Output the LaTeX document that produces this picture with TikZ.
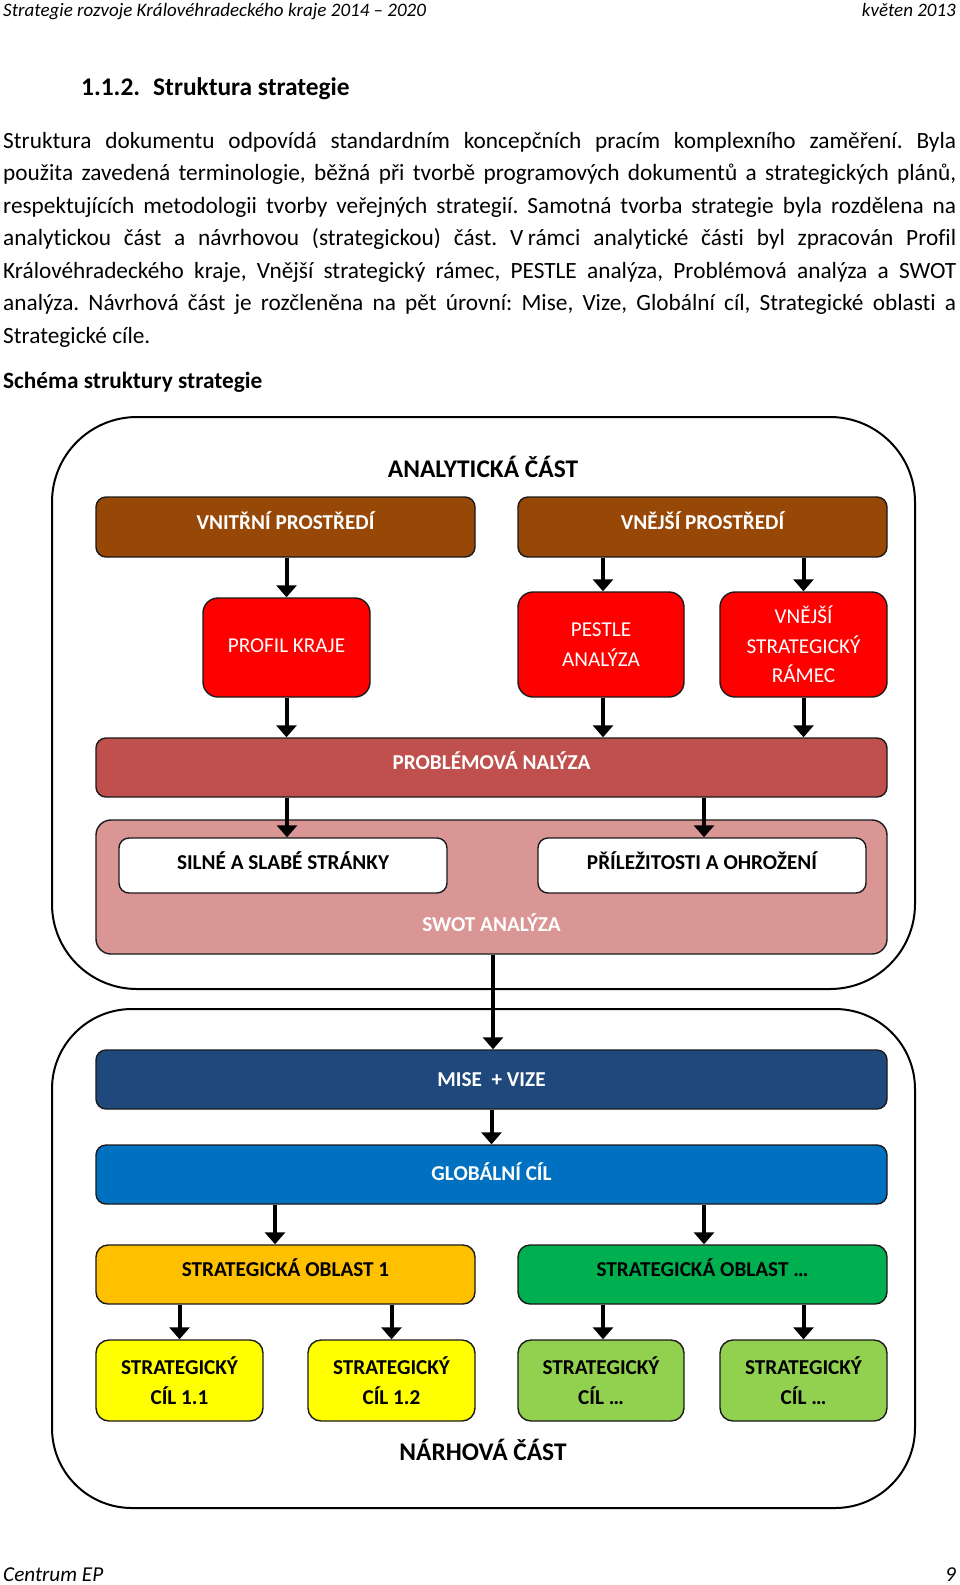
\documentclass[tikz,border=0pt]{standalone}
\usepackage{fontspec}
\setmainfont{Carlito}[Ligatures=NoCommon]
\usetikzlibrary{arrows.meta,calc}
\definecolor{cbrown}{HTML}{974706}
\definecolor{cred}{HTML}{FF0000}
\definecolor{cprob}{HTML}{C0504D}
\definecolor{cswot}{HTML}{D99694}
\definecolor{cmise}{HTML}{1F497D}
\definecolor{cglob}{HTML}{0070C0}
\definecolor{cso1}{HTML}{FFC000}
\definecolor{cso2}{HTML}{00B050}
\definecolor{ccil1}{HTML}{FFFF00}
\definecolor{ccil2}{HTML}{92D050}
\definecolor{cedge}{HTML}{1A1A1A}
\newcommand\fsz[2]{\fontsize{#1pt}{#2pt}\selectfont}
\newcommand\upby[2]{\raisebox{#1pt}[\height][\depth]{#2}}
\frenchspacing
\begin{document}
\begin{tikzpicture}[x=1pt,y=-1pt,
  bx/.style={draw=cedge, line width=1.4pt, inner sep=0pt, align=center, rounded corners=10pt,
     font=\fsz{21.2}{29.7}\bfseries, text=white},
  rbox/.style={bx, rounded corners=15pt, font=\fsz{21.2}{29.7}, fill=cred},
  cilbox/.style={bx, rounded corners=13pt, text=black, minimum width=167pt, minimum height=81pt},
  arr/.style={line width=4pt, -{Triangle[width=20pt,length=12pt]}},
  outerbox/.style={draw=black, line width=2pt, inner sep=0pt, minimum width=863pt},
  body/.style={anchor=base west, inner sep=0pt, font=\fsz{23.3}{32.5}},
  seclabel/.style={anchor=base, inner sep=0pt, font=\fsz{25.4}{30}\bfseries},
  pagetxt/.style={inner sep=0pt, font=\fsz{21.2}{26}\itshape}
]
\useasboundingbox (0,0) rectangle (960,1585);
\fill[white] (0,0) rectangle (960,1585);

% page header and footer
\node[pagetxt, font=\fsz{19}{24}\itshape, anchor=base west] (hdl) at (3,16.5) {Strategie rozvoje Královéhradeckého kraje 2014 – 2020};
\node[pagetxt, font=\fsz{19}{24}\itshape, anchor=base east] (hdr) at (956,16.5) {květen 2013};
\node[pagetxt, anchor=base west] (ftl) at (3,1581) {Centrum EP};
\node[pagetxt, anchor=base east] (ftr) at (956,1581) {9};

% heading
\node[anchor=base west, inner sep=0pt, font=\fsz{25.4}{30}\bfseries] (head) at (81,95)
  {\makebox[72pt][l]{1.1.2.}Struktura strategie};

% paragraph
\node[body] (p1) at (3,148) {\makebox[953pt][s]{Struktura dokumentu odpovídá standardním koncepčních pracím komplexního zaměření. Byla}};
\node[body] (p2) at (3,180.5) {\makebox[953pt][s]{použita zavedená terminologie, běžná při tvorbě programových dokumentů a strategických plánů,}};
\node[body] (p3) at (3,213) {\makebox[953pt][s]{respektujících metodologii tvorby veřejných strategií. Samotná tvorba strategie byla rozdělena na}};
\node[body] (p4) at (3,245.5) {\makebox[953pt][s]{analytickou část a návrhovou (strategickou) část. V\hspace{0.2em}rámci analytické části byl zpracován Profil}};
\node[body] (p5) at (3,278) {\makebox[953pt][s]{Královéhradeckého kraje, Vnější strategický rámec, PESTLE analýza, Problémová analýza a SWOT}};
\node[body] (p6) at (3,310.5) {\makebox[953pt][s]{analýza. Návrhová část je rozčleněna na pět úrovní: Mise, Vize, Globální cíl, Strategické oblasti a}};
\node[body] (p7) at (3,343) {Strategické cíle.};
\node[body, font=\fsz{23.3}{32.5}\bfseries] (schema) at (3,388) {Schéma struktury strategie};

% outer containers
\node[outerbox, rounded corners=85pt, minimum height=572pt] (anal) at (483.5,703) {};
\node[outerbox, rounded corners=80pt, minimum height=499pt] (navr) at (483.5,1258.5) {};
\node[seclabel] (analtxt) at (483,477) {ANALYTICKÁ ČÁST};
\node[seclabel] (navrtxt) at (483,1460) {NÁRHOVÁ ČÁST};

% analytic part
\node[bx, fill=cbrown, minimum width=379pt, minimum height=60pt] (vnitr) at (285.5,527) {\upby{6}{VNITŘNÍ PROSTŘEDÍ}};
\node[bx, fill=cbrown, minimum width=369pt, minimum height=60pt] (vnej) at (702.5,527) {\upby{6}{VNĚJŠÍ PROSTŘEDÍ}};
\node[rbox, minimum width=167pt, minimum height=99pt] (profil) at (286.5,647.5) {\upby{2}{PROFIL KRAJE}};
\node[rbox, minimum width=166pt, minimum height=105pt] (pestle) at (601,644.5) {PESTLE\\ANALÝZA};
\node[rbox, minimum width=167pt, minimum height=105pt] (ramec) at (803.5,644.5) {VNĚJŠÍ\\STRATEGICKÝ\\RÁMEC};
\node[bx, fill=cprob, minimum width=791pt, minimum height=59pt] (probl) at (491.5,767.5) {\upby{7}{PROBLÉMOVÁ NALÝZA}};
\node[bx, fill=cswot, rounded corners=15pt, minimum width=791pt, minimum height=134pt] (swot) at (491.5,887) {};
\node[inner sep=0pt, font=\fsz{21.2}{29.7}\bfseries, text=white] (swottxt) at (491.5,923) {SWOT ANALÝZA};
\node[bx, fill=white, text=black, minimum width=328pt, minimum height=55pt] (silne) at (283,865.5) {\upby{5}{SILNÉ A SLABÉ STRÁNKY}};
\node[bx, fill=white, text=black, minimum width=328pt, minimum height=55pt] (prilez) at (702,865.5) {\upby{5}{PŘÍLEŽITOSTI A OHROŽENÍ}};

% design part
\node[bx, fill=cmise, minimum width=791pt, minimum height=59pt] (mise) at (491.5,1079.5) {MISE \ + VIZE};
\node[bx, fill=cglob, minimum width=791pt, minimum height=59pt] (glob) at (491.5,1174.5) {\upby{3}{GLOBÁLNÍ CÍL}};
\node[bx, fill=cso1, text=black, rounded corners=12pt, minimum width=379pt, minimum height=59pt] (so1) at (285.5,1274.5) {\upby{7}{STRATEGICKÁ OBLAST 1}};
\node[bx, fill=cso2, text=black, rounded corners=12pt, minimum width=369pt, minimum height=59pt] (so2) at (702.5,1274.5) {\upby{7}{STRATEGICKÁ OBLAST …}};
\node[cilbox, fill=ccil1] (c11) at (179.5,1380.5) {STRATEGICKÝ\\CÍL 1.1};
\node[cilbox, fill=ccil1] (c12) at (391.5,1380.5) {STRATEGICKÝ\\CÍL 1.2};
\node[cilbox, fill=ccil2, minimum width=166pt] (c21) at (601,1380.5) {STRATEGICKÝ\\CÍL …};
\node[cilbox, fill=ccil2] (c22) at (803.5,1380.5) {STRATEGICKÝ\\CÍL …};

% connectors
\draw[arr] (profil.north |- vnitr.south) -- (profil.north);
\draw[arr] ($(pestle.north |- vnej.south)+(2,0)$) -- ($(pestle.north)+(2,0)$);
\draw[arr] (ramec.north |- vnej.south) -- (ramec.north);
\draw[arr] (profil.south) -- (profil.south |- probl.north);
\draw[arr] ($(pestle.south)+(2,0)$) -- ($(pestle.south |- probl.north)+(2,0)$);
\draw[arr] (ramec.south) -- (ramec.south |- probl.north);
\draw[arr] ($(silne.north |- probl.south)+(4,0)$) -- ($(silne.north)+(4,0)$);
\draw[arr] ($(prilez.north |- probl.south)+(2,0)$) -- ($(prilez.north)+(2,0)$);
\draw[arr] ($(swot.south)+(1.5,0)$) -- ($(mise.north)+(1.5,0)$);
\draw[arr] (mise.south) -- (glob.north);
\draw[arr] ($(so1.north |- glob.south)+(-10.5,0)$) -- ($(so1.north)+(-10.5,0)$);
\draw[arr] ($(so2.north |- glob.south)+(1.5,0)$) -- ($(so2.north)+(1.5,0)$);
\draw[arr] (c11.north |- so1.south) -- (c11.north);
\draw[arr] (c12.north |- so1.south) -- (c12.north);
\draw[arr] ($(c21.north |- so2.south)+(2,0)$) -- ($(c21.north)+(2,0)$);
\draw[arr] (c22.north |- so2.south) -- (c22.north);
\end{tikzpicture}
\end{document}
